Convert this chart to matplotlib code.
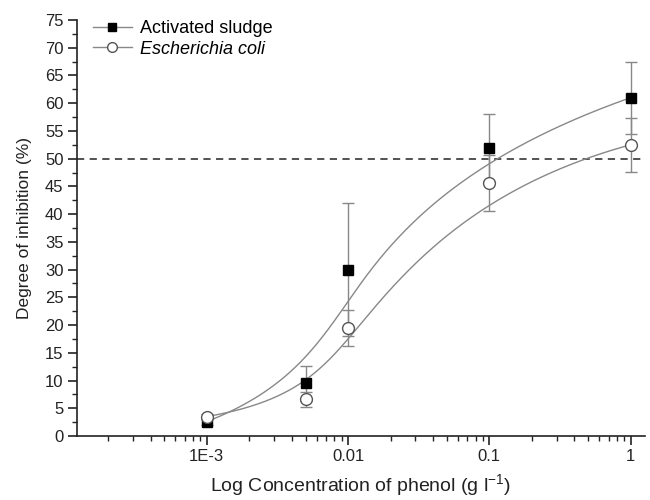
import numpy as np
import matplotlib.pyplot as plt
from matplotlib.ticker import FixedLocator, MultipleLocator, LogLocator, NullFormatter

plt.rcParams['font.family'] = ['Liberation Sans', 'DejaVu Sans']
plt.rcParams['mathtext.fontset'] = 'custom'
plt.rcParams['mathtext.rm'] = 'Liberation Sans'
plt.rcParams['mathtext.it'] = 'Liberation Sans:italic'

conc = [0.001, 0.005, 0.01, 0.1, 1.0]
sludge = [2.6, 9.5, 30.0, 52.0, 61.0]
sludge_err = [0.6, 3.1, 12.0, 6.0, 6.5]
ecoli = [3.5, 6.6, 19.5, 45.6, 52.5]
ecoli_err = [0.5, 1.4, 3.2, 5.0, 4.9]
xtick_vals = [0.001, 0.01, 0.1, 1]
xtick_labels = ['1E-3', '0.01', '0.1', '1']


def bspline(px, py, n=300):
    # clamped cubic B-spline using the data points as control points (Origin style)
    px = np.asarray(px, float)
    py = np.asarray(py, float)
    k = 3
    m = len(px)
    inner = np.linspace(0, 1, m - k + 1)[1:-1]
    t = np.concatenate([[0] * (k + 1), inner, [1] * (k + 1)])
    u = np.linspace(0, 1, n)
    u[-1] = 1 - 1e-12

    def basis(i, p, uu):
        if p == 0:
            return ((t[i] <= uu) & (uu < t[i + 1])).astype(float)
        a = 0.0
        b = 0.0
        if t[i + p] != t[i]:
            a = (uu - t[i]) / (t[i + p] - t[i]) * basis(i, p - 1, uu)
        if t[i + p + 1] != t[i + 1]:
            b = (t[i + p + 1] - uu) / (t[i + p + 1] - t[i + 1]) * basis(i + 1, p - 1, uu)
        return a + b

    B = np.array([basis(i, k, u) for i in range(m)])
    return B.T @ px, B.T @ py


fig, ax = plt.subplots(figsize=(6.5, 5), dpi=100)
fig.subplots_adjust(left=0.118, right=0.992, bottom=0.128, top=0.96)

line_col = '#888888'
lx = np.log10(conc)
for yv, err, mk, fc, lab in [(sludge, sludge_err, 's', 'black', 'Activated sludge'),
                             (ecoli, ecoli_err, 'o', 'white', 'Escherichia coli')]:
    ec = 'black' if mk == 's' else '#555555'
    cx, cy = bspline(lx, yv)
    ax.plot(10 ** cx, cy, color=line_col, lw=1.0, zorder=2)
    ax.errorbar(conc, yv, yerr=err, fmt='none', ecolor=line_col, elinewidth=1.0,
                capsize=4, capthick=1.0, zorder=3)
    ax.plot(conc, yv, linestyle='none', marker=mk, markersize=8.5 if mk == 'o' else 7.5,
            markerfacecolor=fc, markeredgecolor=ec, markeredgewidth=1.0, zorder=4)
    ax.plot([], [], color=line_col, lw=1.0, marker=mk, markersize=7 if mk == 'o' else 6,
            markerfacecolor=fc, markeredgecolor=ec, label=lab)

ax.axhline(50, color='#444444', lw=1.3, linestyle=(0, (4, 3)), zorder=1)

ax.set_xscale('log')
ax.set_xlim(1.2e-4, 1.26)
ax.set_ylim(0, 75)
ax.xaxis.set_major_locator(FixedLocator(xtick_vals))
ax.set_xticklabels(xtick_labels)
ax.xaxis.set_minor_locator(LogLocator(base=10, subs=np.arange(2, 10), numticks=20))
ax.xaxis.set_minor_formatter(NullFormatter())
ax.yaxis.set_major_locator(MultipleLocator(5))
ax.yaxis.set_minor_locator(MultipleLocator(2.5))

for s in ['top', 'right']:
    ax.spines[s].set_visible(False)
for s in ['left', 'bottom']:
    ax.spines[s].set_linewidth(1.2)
    ax.spines[s].set_color('#222222')
ax.tick_params(which='major', direction='out', length=6.5, width=1.2, labelsize=12,
               colors='#222222', pad=3)
ax.tick_params(which='minor', direction='out', length=3.5, width=1.0, colors='#222222')

ax.set_xlabel('Log Concentration of phenol (g l$^{-1}$)', fontsize=14, color='#222222',
              labelpad=6)
ax.set_ylabel('Degree of inhibition (%)', fontsize=12.5, color='#222222', labelpad=9)

leg = ax.legend(loc='upper left', frameon=False, fontsize=13, handlelength=2.2,
                borderaxespad=0, borderpad=0, handletextpad=0.4, labelspacing=0.2,
                bbox_to_anchor=(0.028, 1.0))
leg.get_texts()[1].set_fontstyle('italic')

fig.savefig('out.png', dpi=100)
